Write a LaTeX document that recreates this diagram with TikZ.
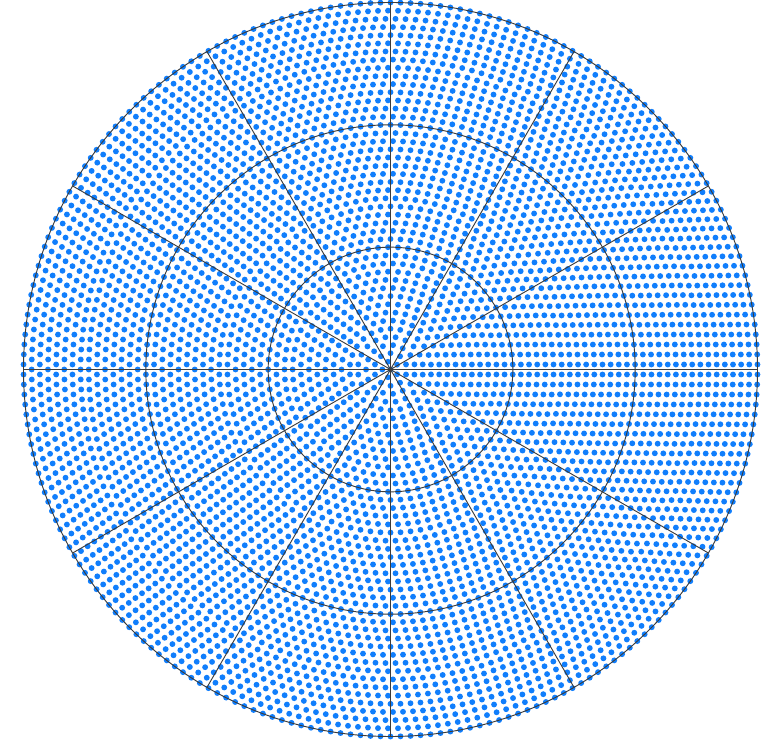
\documentclass[tikz,border=0pt]{standalone}
\definecolor{dotc}{RGB}{16,126,252}
\definecolor{gridc}{RGB}{60,60,60}
\tikzset{
  dotstyle/.style={fill=dotc},
  gridline/.style={draw=gridc, line width=0.7pt}
}
\begin{document}
\begin{tikzpicture}[x=0.75pt,y=0.75pt]
\useasboundingbox (0,0) rectangle (775,742);
\coordinate (O) at (390.5,372.5);
\begin{scope}[shift={(O)}]
  \fill[dotstyle] (0,0) circle (2.2pt);
  \foreach \i in {1,...,45}{
    \pgfmathtruncatemacro\nt{round(5.12*\i)}
    \pgfmathtruncatemacro\nn{\nt-1}
    \pgfmathsetmacro\rr{275.25*\i/45}
    \pgfmathsetmacro\st{360/\nt}
    \foreach \k in {0,...,\nn}{
      \pgfmathsetmacro\aa{(\k+0.5)*\st}
      \fill[dotstyle] (\aa:\rr pt) circle (2.2pt);
    }
  }
  \foreach \t in {0,30,...,330}{
    \draw[gridline] (0,0) -- (\t:275.25pt);
  }
  \draw[gridline] (0,0) circle (91.75pt);
  \draw[gridline] (0,0) circle (183.5pt);
  \draw[gridline] (0,0) circle (275.25pt);
\end{scope}
\end{tikzpicture}
\end{document}
